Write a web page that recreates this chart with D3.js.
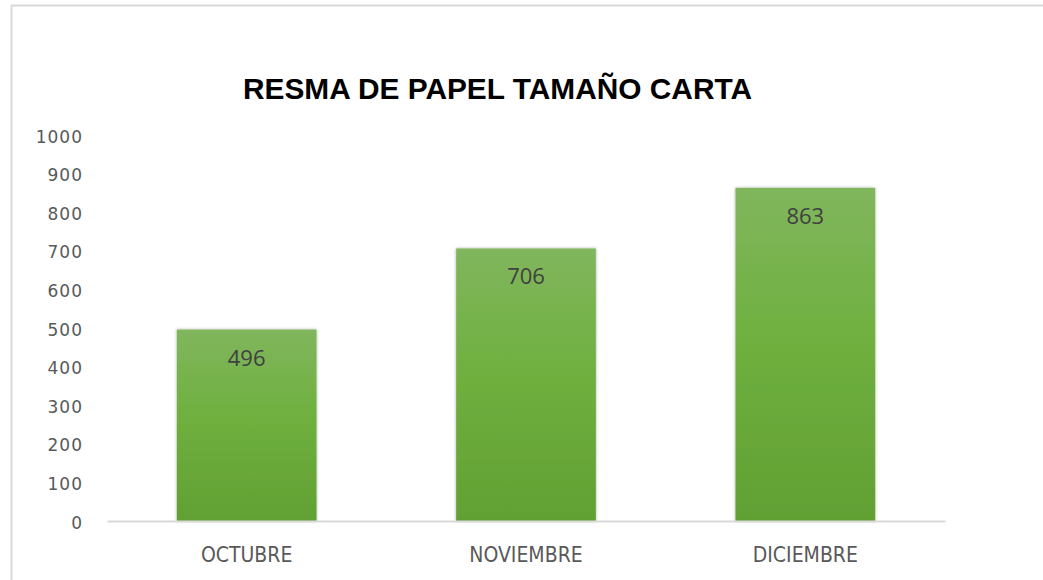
<!DOCTYPE html>
<html>
<head>
<meta charset="utf-8">
<script src="https://cdn.jsdelivr.net/npm/d3@7/dist/d3.min.js"></script>
<style>
  body { margin: 0; background: #fff; }
  svg { display: block; }
</style>
</head>
<body>
<script>
// data
const months = ["OCTUBRE", "NOVIEMBRE", "DICIEMBRE"];
const resmas = [496, 706, 863];
const yTicks = [0, 100, 200, 300, 400, 500, 600, 700, 800, 900, 1000];
const chartTitle = "RESMA DE PAPEL TAMAÑO CARTA";

const width = 1043, height = 580;
const margin = {top: 135, right: 98, bottom: 59, left: 107};

const svg = d3.select("body").append("svg")
  .attr("width", width)
  .attr("height", height);

// frame (only top and left edges show in the shot)
svg.append("path")
  .attr("d", "M11.5,580 L11.5,5.5 L1043,5.5")
  .attr("fill", "none")
  .attr("stroke", "#d9d9d9")
  .attr("stroke-width", 2);

const defs = svg.append("defs");
const grad = defs.append("linearGradient")
  .attr("id", "barGrad")
  .attr("x1", 0).attr("y1", 0).attr("x2", 0).attr("y2", 1);
grad.append("stop").attr("offset", "0%").attr("stop-color", "#80b65d");
grad.append("stop").attr("offset", "45%").attr("stop-color", "#6fb03f");
grad.append("stop").attr("offset", "100%").attr("stop-color", "#61a033");

const shadow = defs.append("filter").attr("id", "shadow")
  .attr("x", "-10%").attr("y", "-10%").attr("width", "120%").attr("height", "120%");
shadow.append("feDropShadow")
  .attr("dx", 0).attr("dy", 0).attr("stdDeviation", 1.5)
  .attr("flood-color", "#000").attr("flood-opacity", 0.35);

const x = d3.scaleBand()
  .domain(months)
  .range([margin.left, width - margin.right])
  .paddingInner(0.5)
  .paddingOuter(0.25);

const y = d3.scaleLinear()
  .domain([0, 1000])
  .range([height - margin.bottom, margin.top]);

// title
svg.append("text")
  .attr("x", 243)
  .attr("y", 99)
  .attr("textLength", 509)
  .attr("lengthAdjust", "spacingAndGlyphs")
  .attr("font-family", "'Liberation Sans', Arial, sans-serif")
  .attr("font-weight", "bold")
  .attr("font-size", 30)
  .attr("fill", "#000")
  .text(chartTitle);

// y axis
const yAxis = svg.append("g")
  .attr("transform", `translate(${margin.left},0)`)
  .call(d3.axisLeft(y).tickValues(yTicks).tickFormat(d3.format("d")).tickSize(0).tickPadding(24));
yAxis.select(".domain").remove();
yAxis.selectAll("text")
  .attr("dy", 7)
  .attr("font-family", "'DejaVu Sans', sans-serif")
  .attr("font-size", 17)
  .attr("letter-spacing", 1)
  .attr("fill", "#595959");

// bars
svg.selectAll("rect.bar")
  .data(resmas)
  .enter()
  .append("rect")
  .attr("class", "bar")
  .attr("x", (d, i) => x(months[i]))
  .attr("y", d => y(d))
  .attr("width", x.bandwidth())
  .attr("height", d => y(0) - y(d))
  .attr("fill", "url(#barGrad)")
  .attr("filter", "url(#shadow)");

// x axis
const xAxis = svg.append("g")
  .attr("transform", `translate(0,${y(0)})`)
  .call(d3.axisBottom(x).tickSize(0));
xAxis.select(".domain")
  .attr("stroke", "#d9d9d9")
  .attr("stroke-width", 2);
xAxis.selectAll("text")
  .attr("y", 41)
  .attr("dy", null)
  .attr("font-family", "'DejaVu Sans Condensed', 'DejaVu Sans', sans-serif")
  .attr("font-size", 21)
  .attr("fill", "#595959");

// value labels
svg.selectAll("text.val")
  .data(resmas)
  .enter()
  .append("text")
  .attr("class", "val")
  .attr("x", (d, i) => x(months[i]) + x.bandwidth() / 2)
  .attr("y", d => y(d) + 36)
  .attr("text-anchor", "middle")
  .attr("font-family", "'Open Sans', sans-serif")
  .attr("font-size", 22)
  .attr("fill", "#404040")
  .text(d => d);
</script>
</body>
</html>
